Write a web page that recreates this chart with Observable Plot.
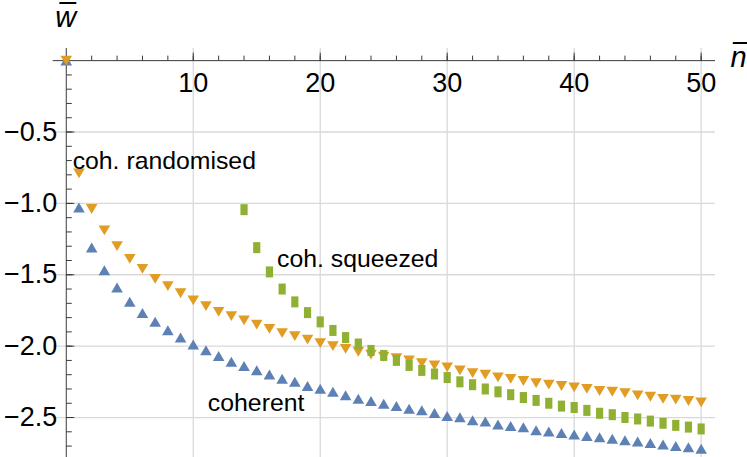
<!DOCTYPE html>
<html><head><meta charset="utf-8">
<script src="https://cdn.jsdelivr.net/npm/d3@7"></script>
<script src="https://cdn.jsdelivr.net/npm/@observablehq/plot@0.6"></script>
<style>body{margin:0;background:#fff}</style>
</head><body><div id="chart"></div>
<script>
// ---- data ----
const nCoherent = d3.range(0, 51);
const coherent = [0, -1.03, -1.31, -1.47, -1.59, -1.69, -1.77, -1.83, -1.89, -1.94,
  -1.99, -2.03, -2.07, -2.11, -2.14, -2.17, -2.20, -2.23, -2.25, -2.28,
  -2.30, -2.32, -2.345, -2.37, -2.385, -2.405, -2.42, -2.44, -2.45, -2.47,
  -2.49, -2.50, -2.52, -2.53, -2.55, -2.56, -2.57, -2.59, -2.60, -2.61,
  -2.62, -2.63, -2.64, -2.65, -2.66, -2.67, -2.68, -2.69, -2.70, -2.71, -2.72];
const nRandomised = d3.range(0, 51);
const randomised = [0, -0.79, -1.04, -1.19, -1.30, -1.39, -1.46, -1.53, -1.58, -1.63,
  -1.68, -1.72, -1.76, -1.79, -1.82, -1.85, -1.88, -1.91, -1.93, -1.955,
  -1.98, -2.00, -2.02, -2.04, -2.06, -2.075, -2.085, -2.10, -2.12, -2.135,
  -2.15, -2.17, -2.19, -2.20, -2.22, -2.23, -2.245, -2.26, -2.27, -2.28,
  -2.29, -2.30, -2.315, -2.32, -2.33, -2.345, -2.355, -2.37, -2.375, -2.385, -2.395];
const nSqueezed = d3.range(14, 51);
const squeezed = [-1.044, -1.31, -1.48, -1.60, -1.69, -1.765, -1.83, -1.89, -1.94, -1.985,
  -2.03, -2.065, -2.10, -2.135, -2.17, -2.195, -2.22, -2.25, -2.27, -2.30,
  -2.32, -2.34, -2.36, -2.38, -2.40, -2.42, -2.43, -2.45, -2.47, -2.48,
  -2.50, -2.51, -2.525, -2.54, -2.555, -2.567, -2.58];
const xTicks = [10, 20, 30, 40, 50];
const yTicks = [-0.5, -1.0, -1.5, -2.0, -2.5];
const seriesLabels = ["coh. randomised", "coh. squeezed", "coherent"];
const labelN = [0.5, 16.6, 11.15];
const labelW = [-0.757, -1.444, -2.453];

// ---- build tables ----
const toRows = (ns, ws) => ns.map((n, i) => ({n, w: ws[i]}));
const rowsC = toRows(nCoherent, coherent);
const rowsR = toRows(nRandomised, randomised);
const rowsS = toRows(nSqueezed, squeezed);
const labels = seriesLabels.map((t, i) => ({t, n: labelN[i], w: labelW[i]}));
const xMinor = d3.range(2, 51, 2);
const yMinor = d3.range(1, 28).map(k => -k / 10);

// ---- symbols ----
const triUp = {draw(c) { c.moveTo(0, -5.2); c.lineTo(5.8, 4.8); c.lineTo(-5.8, 4.8); c.closePath(); }};
const triDown = {draw(c) { c.moveTo(0, 4.8); c.lineTo(5.8, -5.0); c.lineTo(-5.8, -5.0); c.closePath(); }};
const rectSym = {draw(c) { c.rect(-3.6, -5.5, 7.2, 11); }};
const tickUp = len => ({draw(c) { c.moveTo(0, 0); c.lineTo(0, -len); }});
const tickRight = len => ({draw(c) { c.moveTo(0, 0); c.lineTo(len, 0); }});

const axisColor = "#3a3a3a";
const font = "'Liberation Sans', Arial, sans-serif";
const fmt = d => "\u2212" + Math.abs(d).toFixed(1);

const chart = Plot.plot({
  width: 747, height: 457,
  marginLeft: 52.7, marginRight: 32, marginTop: 48, marginBottom: 0,
  x: {domain: [-1.03, 51.13], axis: null},
  y: {domain: [-2.78, 0.085], axis: null},
  style: {fontFamily: font, background: "white", overflow: "visible"},
  marks: [
    Plot.ruleX(xTicks, {stroke: "#d9d9d9", strokeWidth: 1.3}),
    Plot.ruleY(yTicks, {stroke: "#d9d9d9", strokeWidth: 1.3}),
    Plot.ruleX([0], {stroke: axisColor, strokeWidth: 1}),
    Plot.ruleY([0], {stroke: axisColor, strokeWidth: 1}),
    Plot.dot(xMinor, {x: d => d, y: () => 0, symbol: tickUp(5), stroke: axisColor, fill: "none", strokeWidth: 1}),
    Plot.dot(xTicks, {x: d => d, y: () => 0, symbol: tickUp(8), stroke: axisColor, fill: "none", strokeWidth: 1}),
    Plot.dot(yMinor, {x: () => 0, y: d => d, symbol: tickRight(5.5), stroke: axisColor, fill: "none", strokeWidth: 1}),
    Plot.dot(yTicks, {x: () => 0, y: d => d, symbol: tickRight(8), stroke: axisColor, fill: "none", strokeWidth: 1}),
    Plot.text(xTicks, {x: d => d, y: () => 0, text: d => String(d), dy: 31.5, lineAnchor: "bottom", textAnchor: "middle", fontSize: 27, fill: "black"}),
    Plot.text(yTicks, {x: () => 0, y: d => d, text: fmt, dx: -9, lineAnchor: "middle", textAnchor: "end", fontSize: 27, fill: "black"}),
    Plot.dot(rowsC, {x: "n", y: "w", symbol: triUp, fill: "#5E81B5", stroke: "none"}),
    Plot.dot(rowsR, {x: "n", y: "w", symbol: triDown, fill: "#E19C24", stroke: "none"}),
    Plot.dot(rowsS, {x: "n", y: "w", symbol: rectSym, fill: "#8FB032", stroke: "none"}),
    Plot.text(labels, {x: "n", y: "w", text: "t", textAnchor: "start", lineAnchor: "bottom", fontSize: 24.8, fill: "black"}),
    Plot.text(["w\u0305"], {frameAnchor: "top-left", dx: 2, dy: -21.3, textAnchor: "start", lineAnchor: "bottom", fontSize: 29, fontStyle: "italic", fill: "black"}),
    Plot.text(["n\u0305"], {frameAnchor: "top-right", dx: 15, dy: 18.7, textAnchor: "start", lineAnchor: "bottom", fontSize: 29, fontStyle: "italic", fill: "black"})
  ]
});
document.getElementById("chart").appendChild(chart);
</script>
</body></html>
